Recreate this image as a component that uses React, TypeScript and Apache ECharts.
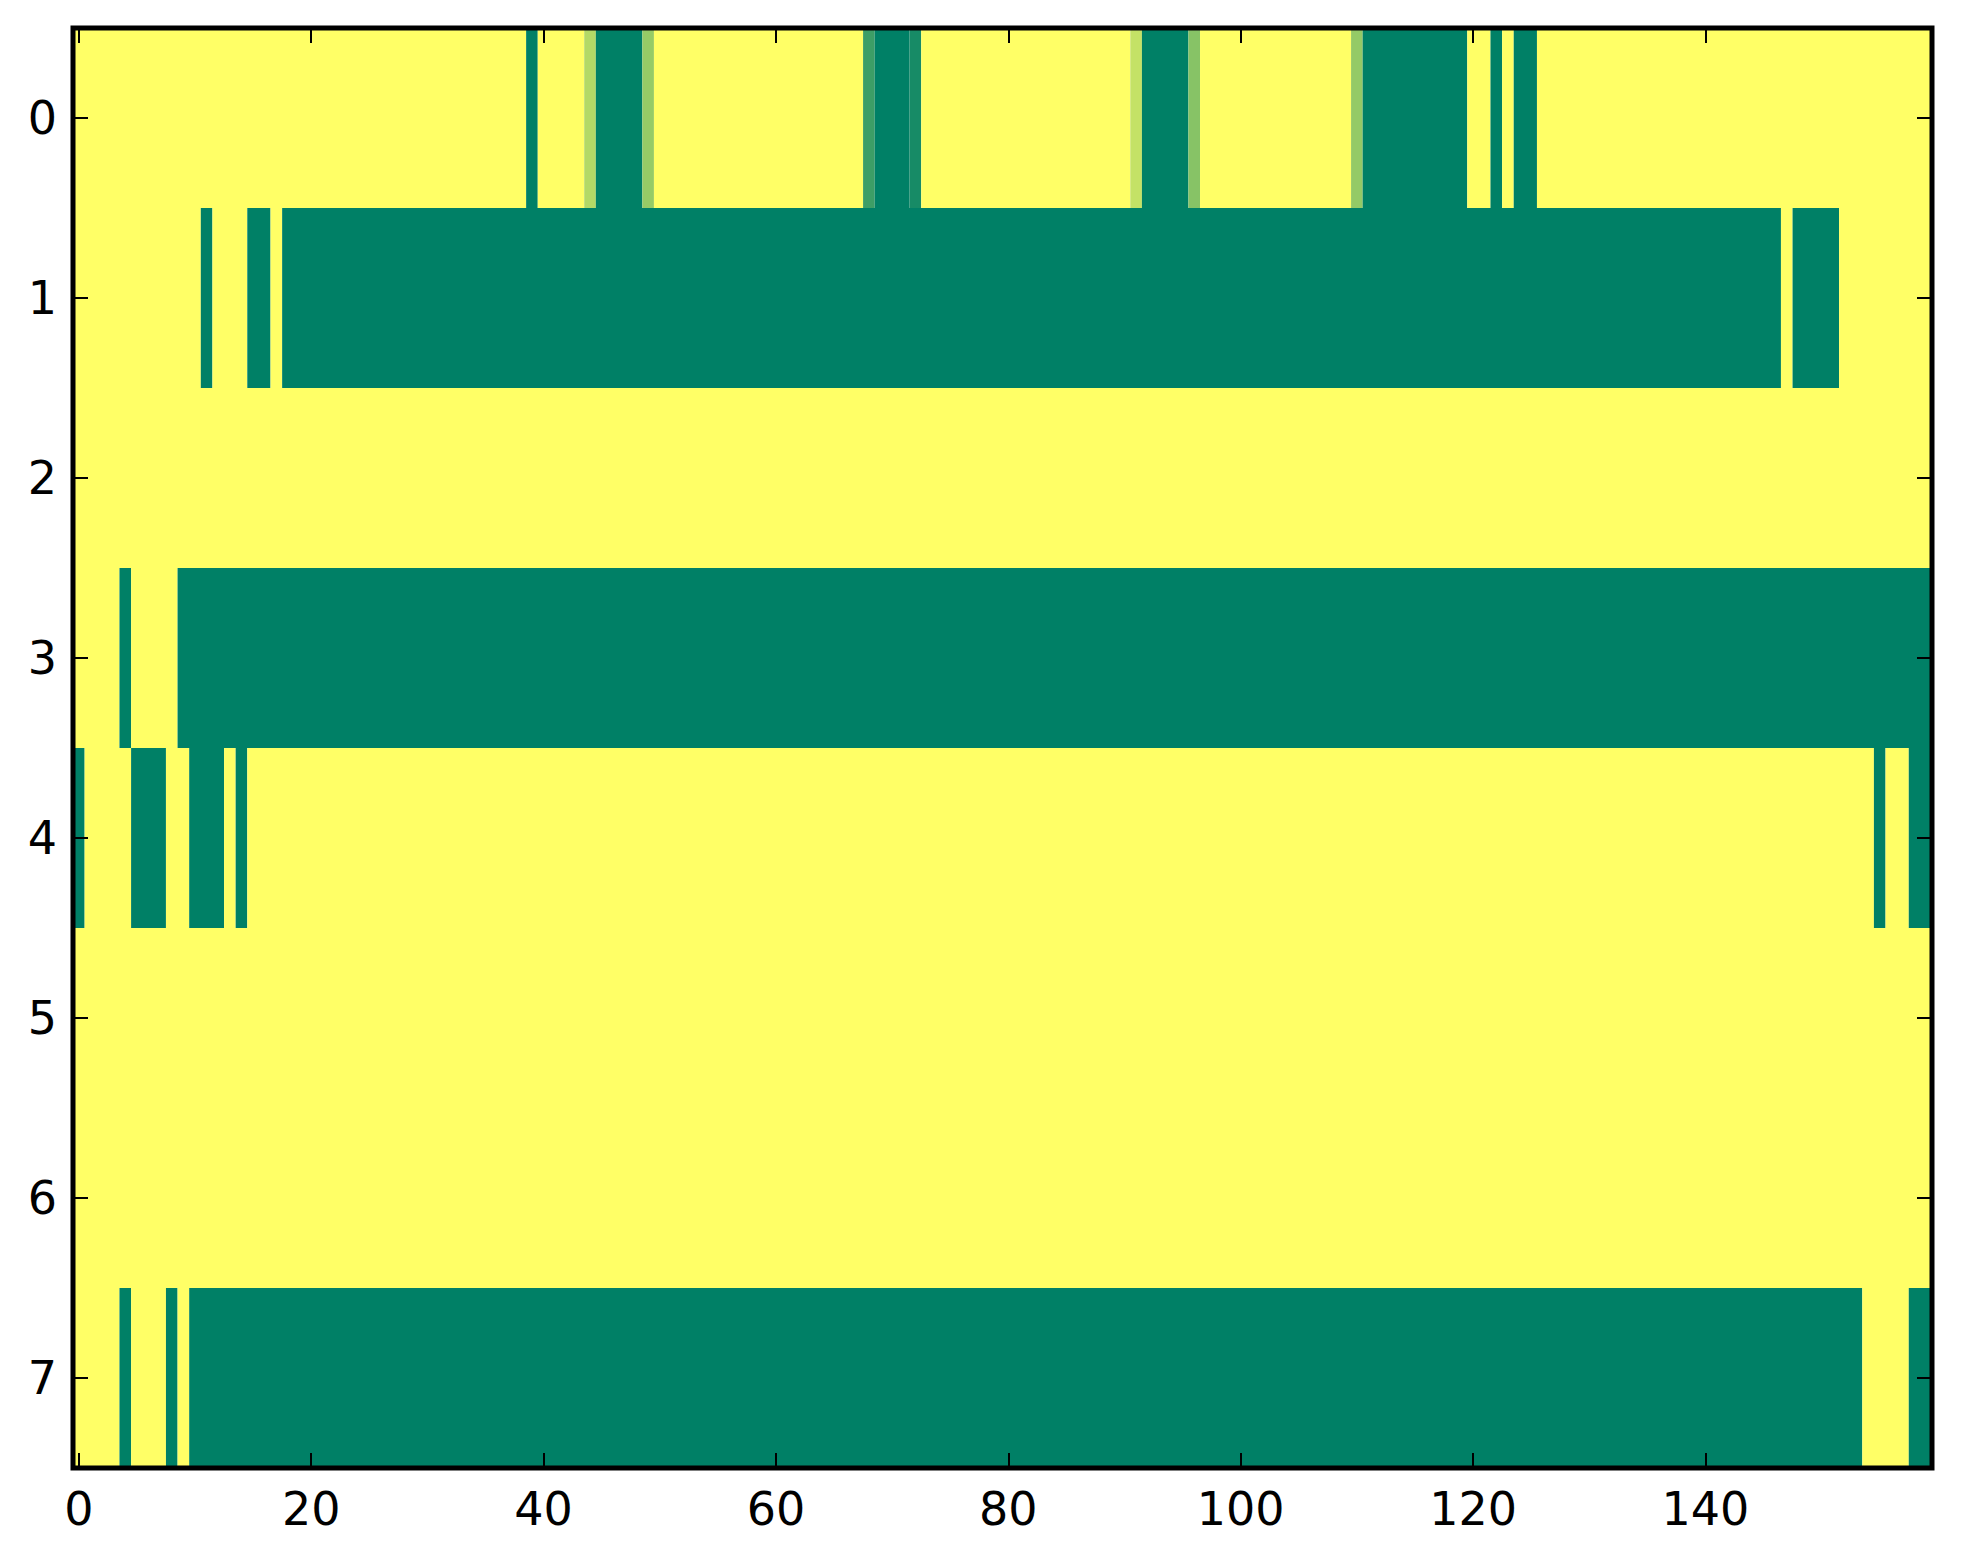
import React, { useEffect, useRef } from "react";
import * as echarts from "echarts";

// column and row labels
const xCats = Array.from({ length: 160 }, (_, i) => String(i));
const yCats = ["0", "1", "2", "3", "4", "5", "6", "7"];

// each row as runs of [value, count]; every row sums to 160 columns
const row0 = [
  [1, 39], [0, 1], [1, 4], [0.7, 1], [0, 4], [0.59, 1], [1, 18], [0.24, 1],
  [0, 3], [0.09, 1], [1, 18], [0.77, 1], [0, 4], [0.53, 1], [1, 13], [0.58, 1],
  [0, 9], [1, 2], [0, 1], [1, 1], [0, 2], [1, 34],
];
const row1 = [[1, 11], [0, 1], [1, 3], [0, 2], [1, 1], [0, 129], [1, 1], [0, 4], [1, 8]];
const row2 = [[1, 160]];
const row3 = [[1, 4], [0, 1], [1, 4], [0, 151]];
const row4 = [
  [0, 1], [1, 4], [0, 3], [1, 2], [0, 3], [1, 1], [0, 1], [1, 140], [0, 1], [1, 2], [0, 2],
];
const row5 = [[1, 160]];
const row6 = [[1, 160]];
const row7 = [[1, 4], [0, 1], [1, 3], [0, 1], [1, 1], [0, 144], [1, 4], [0, 2]];

const rows = [row0, row1, row2, row3, row4, row5, row6, row7];

const FONT = "DejaVu Sans";
const W = 1947;
const H = 1548;
const GRID = { left: 65, top: 20, right: 23, bottom: 88 };

// one item per run: [firstCol, lastCol, row, value]
const buildRuns = () => {
  const out: number[][] = [];
  rows.forEach((runs, y) => {
    let x = 0;
    runs.forEach(([v, n]) => {
      out.push([x, x + n - 1, y, v]);
      x += n;
    });
  });
  return out;
};

const everyTwenty = (i: number) => i % 20 === 0;

const axisLine = { show: false };
const tick = { show: true, inside: true, length: 15, lineStyle: { color: "#000", width: 2 } };
const label = { color: "#000", fontSize: 46, fontFamily: FONT };

const App = () => {
  const chartRef = useRef<HTMLDivElement>(null);

  useEffect(() => {
    if (!chartRef.current) return;
    const chart = echarts.init(chartRef.current, null, { renderer: "svg" });

    chart.setOption({
      animation: false,
      grid: { ...GRID, containLabel: false },
      visualMap: {
        show: false,
        dimension: 3,
        min: 0,
        max: 1,
        inRange: { color: ["#008066", "#ffff66"] },
      },
      xAxis: [
        {
          type: "category",
          data: xCats,
          position: "bottom",
          z: 10,
          axisLine,
          axisTick: { ...tick, alignWithLabel: true, interval: everyTwenty },
          axisLabel: { ...label, interval: everyTwenty, margin: 18 },
          splitLine: { show: false },
        },
        {
          type: "category",
          data: xCats,
          position: "top",
          z: 10,
          axisLine,
          axisTick: { ...tick, alignWithLabel: true, interval: everyTwenty },
          axisLabel: { show: false },
          splitLine: { show: false },
        },
      ],
      yAxis: [
        {
          type: "category",
          data: yCats,
          inverse: true,
          position: "left",
          z: 10,
          axisLine,
          axisTick: { ...tick, alignWithLabel: true },
          axisLabel: { ...label, margin: 16 },
          splitLine: { show: false },
        },
        {
          type: "category",
          data: yCats,
          inverse: true,
          position: "right",
          z: 10,
          axisLine,
          axisTick: { ...tick, alignWithLabel: true },
          axisLabel: { show: false },
          splitLine: { show: false },
        },
      ],
      series: [
        {
          type: "custom",
          xAxisIndex: 0,
          yAxisIndex: 0,
          z: 1,
          clip: true,
          encode: { x: [0, 1], y: 2 },
          data: buildRuns(),
          renderItem: (params: any, api: any) => {
            const p0 = api.coord([api.value(0), api.value(2)]);
            const p1 = api.coord([api.value(1), api.value(2)]);
            const size = api.size([1, 1]);
            return {
              type: "rect",
              shape: {
                x: p0[0] - size[0] / 2,
                y: p0[1] - size[1] / 2,
                width: p1[0] - p0[0] + size[0],
                height: size[1],
              },
              style: { fill: api.visual("color") },
            };
          },
          emphasis: { disabled: true },
        },
      ],
      // axes frame drawn over the cells, like matplotlib's spines
      graphic: [
        {
          type: "rect",
          z: 100,
          silent: true,
          shape: {
            x: GRID.left,
            y: GRID.top,
            width: W - GRID.left - GRID.right,
            height: H - GRID.top - GRID.bottom,
          },
          style: { fill: "none", stroke: "#000", lineWidth: 5 },
        },
      ],
    });

    return () => {
      chart.dispose();
    };
  }, []);

  return <div ref={chartRef} style={{ width: `${W}px`, height: `${H}px` }} />;
};

export default App;
